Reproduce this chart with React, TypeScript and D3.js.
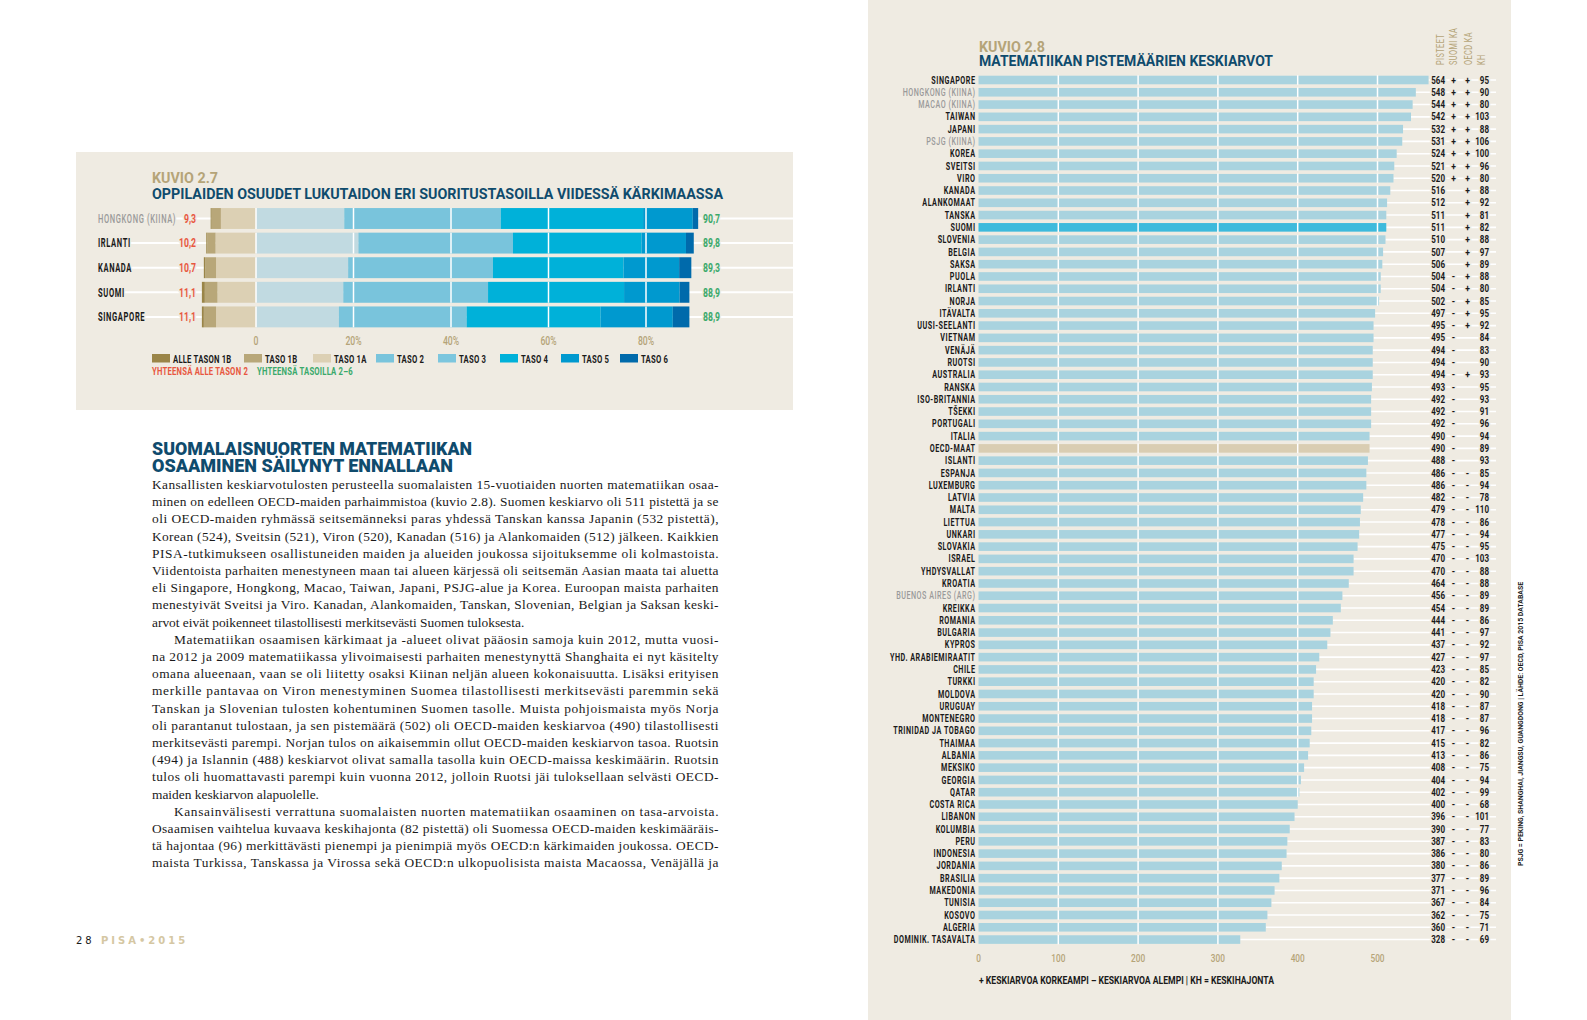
import { useEffect } from "react";
import * as d3 from "d3";

// ---- kuvio 2.7 : lukutaidon suoritustasot ----
const readCountries = ["HONGKONG (KIINA)", "IRLANTI", "KANADA", "SUOMI", "SINGAPORE"];
const below1b = [0.2, 0.2, 0.3, 0.6, 0.4];
const level1b = [1.9, 1.7, 2.2, 2.6, 2.5];
const level1a = [7.2, 8.3, 8.2, 7.9, 8.2];
const level2 = [18.1, 21.0, 18.9, 17.9, 17.0];
const level3 = [32.1, 31.7, 29.7, 29.7, 26.2];
const level4 = [29.2, 26.4, 26.8, 27.9, 27.5];
const level5 = [10.2, 9.1, 11.4, 11.4, 14.8];
const level6 = [1.1, 1.6, 2.5, 2.0, 3.4];
const readTicks = [0, 20, 40, 60, 80];
const levelNames = ["ALLE TASON 1B", "TASO 1B", "TASO 1A", "TASO 2", "TASO 3", "TASO 4", "TASO 5", "TASO 6"];

// ---- kuvio 2.8 : matematiikan keskiarvot ----
const mathCountries = [
  "SINGAPORE", "HONGKONG (KIINA)", "MACAO (KIINA)", "TAIWAN", "JAPANI", "PSJG (KIINA)", "KOREA", "SVEITSI", "VIRO",
  "KANADA", "ALANKOMAAT", "TANSKA", "SUOMI", "SLOVENIA", "BELGIA", "SAKSA", "PUOLA", "IRLANTI", "NORJA", "ITÄVALTA",
  "UUSI-SEELANTI", "VIETNAM", "VENÄJÄ", "RUOTSI", "AUSTRALIA", "RANSKA", "ISO-BRITANNIA", "TŠEKKI", "PORTUGALI",
  "ITALIA", "OECD-MAAT", "ISLANTI", "ESPANJA", "LUXEMBURG", "LATVIA", "MALTA", "LIETTUA", "UNKARI", "SLOVAKIA",
  "ISRAEL", "YHDYSVALLAT", "KROATIA", "BUENOS AIRES (ARG)", "KREIKKA", "ROMANIA", "BULGARIA", "KYPROS",
  "YHD. ARABIEMIRAATIT", "CHILE", "TURKKI", "MOLDOVA", "URUGUAY", "MONTENEGRO", "TRINIDAD JA TOBAGO", "THAIMAA",
  "ALBANIA", "MEKSIKO", "GEORGIA", "QATAR", "COSTA RICA", "LIBANON", "KOLUMBIA", "PERU", "INDONESIA", "JORDANIA",
  "BRASILIA", "MAKEDONIA", "TUNISIA", "KOSOVO", "ALGERIA", "DOMINIK. TASAVALTA",
];
const mathScores = [
  564, 548, 544, 542, 532, 531, 524, 521, 520,
  516, 512, 511, 511, 510, 507, 506, 504, 504, 502, 497,
  495, 495, 494, 494, 494, 493, 492, 492, 492,
  490, 490, 488, 486, 486, 482, 479, 478, 477, 475,
  470, 470, 464, 456, 454, 444, 441, 437,
  427, 423, 420, 420, 418, 418, 417, 415,
  413, 408, 404, 402, 400, 396, 390, 387, 386, 380,
  377, 371, 367, 362, 360, 328,
];
const vsSuomi = [
  "+", "+", "+", "+", "+", "+", "+", "+", "+",
  "", "", "", "", "", "", "", "-", "-", "-", "-",
  "-", "-", "-", "-", "-", "-", "-", "-", "-",
  "-", "-", "-", "-", "-", "-", "-", "-", "-", "-",
  "-", "-", "-", "-", "-", "-", "-", "-",
  "-", "-", "-", "-", "-", "-", "-", "-",
  "-", "-", "-", "-", "-", "-", "-", "-", "-", "-",
  "-", "-", "-", "-", "-", "-",
];
const vsOecd = [
  "+", "+", "+", "+", "+", "+", "+", "+", "+",
  "+", "+", "+", "+", "+", "+", "+", "+", "+", "+", "+",
  "+", "", "", "", "+", "", "", "", "",
  "", "", "", "-", "-", "-", "-", "-", "-", "-",
  "-", "-", "-", "-", "-", "-", "-", "-",
  "-", "-", "-", "-", "-", "-", "-", "-",
  "-", "-", "-", "-", "-", "-", "-", "-", "-", "-",
  "-", "-", "-", "-", "-", "-",
];
const mathSD = [
  95, 90, 80, 103, 88, 106, 100, 96, 80,
  88, 92, 81, 82, 88, 97, 89, 88, 80, 85, 95,
  92, 84, 83, 90, 93, 95, 93, 91, 96,
  94, 89, 93, 85, 94, 78, 110, 86, 94, 95,
  103, 88, 88, 89, 89, 86, 97, 92,
  97, 85, 82, 90, 87, 87, 96, 82,
  86, 75, 94, 99, 68, 101, 77, 83, 80, 86,
  89, 96, 84, 75, 71, 69,
];
const greyRegions = ["HONGKONG (KIINA)", "MACAO (KIINA)", "PSJG (KIINA)", "BUENOS AIRES (ARG)"];
const mathTicks = [0, 100, 200, 300, 400, 500];
const mathHeaders = ["PISTEET", "SUOMI KA", "OECD KA", "KH"];

// ---- leipäteksti ----
const heading = ["SUOMALAISNUORTEN MATEMATIIKAN", "OSAAMINEN SÄILYNYT ENNALLAAN"];
const paragraphs = [
  [
    "Kansallisten keskiarvotulosten perusteella suomalaisten 15-vuotiaiden nuorten matematiikan osaa-",
    "minen on edelleen OECD-maiden parhaimmistoa (kuvio 2.8). Suomen keskiarvo oli 511 pistettä ja se",
    "oli OECD-maiden ryhmässä seitsemänneksi paras yhdessä Tanskan kanssa Japanin (532 pistettä),",
    "Korean (524), Sveitsin (521), Viron (520), Kanadan (516) ja Alankomaiden (512) jälkeen. Kaikkien",
    "PISA-tutkimukseen osallistuneiden maiden ja alueiden joukossa sijoituksemme oli kolmastoista.",
    "Viidentoista parhaiten menestyneen maan tai alueen kärjessä oli seitsemän Aasian maata tai aluetta",
    "eli Singapore, Hongkong, Macao, Taiwan, Japani, PSJG-alue ja Korea. Euroopan maista parhaiten",
    "menestyivät Sveitsi ja Viro. Kanadan, Alankomaiden, Tanskan, Slovenian, Belgian ja Saksan keski-",
    "arvot eivät poikenneet tilastollisesti merkitsevästi Suomen tuloksesta.",
  ],
  [
    "Matematiikan osaamisen kärkimaat ja -alueet olivat pääosin samoja kuin 2012, mutta vuosi-",
    "na 2012 ja 2009 matematiikassa ylivoimaisesti parhaiten menestynyttä Shanghaita ei nyt käsitelty",
    "omana alueenaan, vaan se oli liitetty osaksi Kiinan neljän alueen kokonaisuutta. Lisäksi erityisen",
    "merkille pantavaa on Viron menestyminen Suomea tilastollisesti merkitsevästi paremmin sekä",
    "Tanskan ja Slovenian tulosten kohentuminen Suomen tasolle. Muista pohjoismaista myös Norja",
    "oli parantanut tulostaan, ja sen pistemäärä (502) oli OECD-maiden keskiarvoa (490) tilastollisesti",
    "merkitsevästi parempi. Norjan tulos on aikaisemmin ollut OECD-maiden keskiarvon tasoa. Ruotsin",
    "(494) ja Islannin (488) keskiarvot olivat samalla tasolla kuin OECD-maissa keskimäärin. Ruotsin",
    "tulos oli huomattavasti parempi kuin vuonna 2012, jolloin Ruotsi jäi tuloksellaan selvästi OECD-",
    "maiden keskiarvon alapuolelle.",
  ],
  [
    "Kansainvälisesti verrattuna suomalaisten nuorten matematiikan osaaminen on tasa-arvoista.",
    "Osaamisen vaihtelua kuvaava keskihajonta (82 pistettä) oli Suomessa OECD-maiden keskimääräis-",
    "tä hajontaa (96) merkittävästi pienempi ja pienimpiä myös OECD:n kärkimaiden joukossa. OECD-",
    "maista Turkissa, Tanskassa ja Virossa sekä OECD:n ulkopuolisista maista Macaossa, Venäjällä ja",
  ],
];

const BEIGE = "#efebe2";
const TAN = "#b5a478";
const NAVY = "#0f4b6d";
const INK = "#1a1a1a";
const COND = "Roboto, 'DejaVu Sans', sans-serif";
const HEAD = "Roboto, 'DejaVu Sans', sans-serif";
const SERIF = "'Liberation Serif','DejaVu Serif',serif";

const levelColors = ["#9a8548", "#b8a779", "#dcd0b4", "#c1dae1", "#79c4dc", "#00b1d9", "#0099cf", "#006aab"];
const legendColors = ["#9a8548", "#b8a779", "#dcd0b4", "#79c4dc", "#7cc6de", "#00b1d9", "#0099cf", "#006aab"];

const halo = { paintOrder: "stroke", stroke: BEIGE, strokeWidth: 4, strokeLinejoin: "round" } as any;

// condensed text: no narrow face is installed, so squeeze horizontally
function CText({ x, y, sx = 0.72, children, ...rest }: any) {
  return (
    <text transform={`translate(${x},${y}) scale(${sx},1)`} fontFamily={COND} {...rest}>
      {children}
    </text>
  );
}

function ReadingChart() {
  const keys = ["l1a", "l1b", "alle", "l2", "l3", "l4", "l5", "l6"];
  const table = readCountries.map((c, i) => ({
    country: c,
    alle: -below1b[i],
    l1b: -level1b[i],
    l1a: -level1a[i],
    l2: level2[i],
    l3: level3[i],
    l4: level4[i],
    l5: level5[i],
    l6: level6[i],
  }));
  const series = d3.stack<any>().keys(keys).offset(d3.stackOffsetDiverging)(table);
  const colorOf: Record<string, string> = {
    alle: levelColors[0], l1b: levelColors[1], l1a: levelColors[2], l2: levelColors[3],
    l3: levelColors[4], l4: levelColors[5], l5: levelColors[6], l6: levelColors[7],
  };
  const x = d3.scaleLinear().domain([0, 80]).range([256, 646]);
  const y = d3.scaleBand<string>().domain(readCountries).range([206.2, 329.2]).paddingInner(0.15).paddingOuter(0.075);
  const fmt = (v: number) => v.toFixed(1).replace(".", ",");
  const legendX = [152, 244, 313, 376, 438, 500, 561, 620];

  return (
    <g>
      <rect x={76} y={152} width={717} height={258} fill={BEIGE} />
      <text x={152} y={183} fontFamily={HEAD} fontWeight={700} fontSize={14} fill={TAN} textLength={66} lengthAdjust="spacingAndGlyphs">KUVIO 2.7</text>
      <text x={152} y={198.5} fontFamily={HEAD} fontWeight={700} fontSize={14} fill={NAVY} textLength={571} lengthAdjust="spacingAndGlyphs">
        OPPILAIDEN OSUUDET LUKUTAIDON ERI SUORITUSTASOILLA VIIDESSÄ KÄRKIMAASSA
      </text>
      {readCountries.map((c) => (
        <line key={c} x1={100} x2={793} y1={y(c)! + y.bandwidth() / 2} y2={y(c)! + y.bandwidth() / 2} stroke="#fff" strokeWidth={2} />
      ))}
      {series.map((s) =>
        s.map((d, i) => (
          <rect key={s.key + i} x={x(Math.min(d[0], d[1]))} width={Math.abs(x(d[1]) - x(d[0]))}
            y={y(readCountries[i])} height={y.bandwidth()} fill={colorOf[s.key]} />
        ))
      )}
      {readCountries.map((c, i) => {
        const right = level2[i] + level3[i] + level4[i] + level5[i] + level6[i];
        return readTicks.filter((t) => t < right).map((t) => (
          <line key={c + t} x1={x(t)} x2={x(t)} y1={y(c)} y2={y(c)! + y.bandwidth()} stroke="#fff" strokeWidth={1.5} />
        ));
      })}
      {readCountries.map((c, i) => {
        const cy = y(c)! + y.bandwidth() / 2 + 4.2;
        const low = below1b[i] + level1b[i] + level1a[i];
        const high = level2[i] + level3[i] + level4[i] + level5[i] + level6[i];
        return (
          <g key={c} fontWeight={700} fontSize={12}>
            <CText x={98} y={cy} sx={0.63} fill={greyRegions.includes(c) ? "#9a9a9a" : INK} fontWeight={greyRegions.includes(c) ? 500 : 700} letterSpacing={1} style={halo}>{c}</CText>
            <CText x={196} y={cy} sx={0.72} textAnchor="end" fill="#e8573f" style={halo}>{fmt(low)}</CText>
            <CText x={703} y={cy} sx={0.72} fill="#3aa96b" style={halo}>{fmt(high)}</CText>
          </g>
        );
      })}
      {readTicks.map((t) => (
        <CText key={t} x={x(t)} y={344.5} sx={0.72} textAnchor="middle" fontSize={12} fontWeight={500} fill={TAN}>
          {t === 0 ? "0" : `${t}%`}
        </CText>
      ))}
      {levelNames.map((n, i) => (
        <g key={n}>
          <rect x={legendX[i]} y={354} width={18} height={8.5} fill={legendColors[i]} />
          <CText x={legendX[i] + 21} y={362.5} sx={0.7} fontWeight={700} fontSize={11} fill={INK} letterSpacing={0.3}>{n}</CText>
        </g>
      ))}
      <CText x={152} y={374.5} sx={0.7} fontWeight={700} fontSize={11} fill="#e8573f" letterSpacing={0.3}>YHTEENSÄ ALLE TASON 2</CText>
      <CText x={257} y={374.5} sx={0.7} fontWeight={700} fontSize={11} fill="#3aa96b" letterSpacing={0.3}>YHTEENSÄ TASOILLA 2–6</CText>
    </g>
  );
}

function MathChart() {
  const x = d3.scaleLinear().domain([0, 500]).range([978.5, 1377.5]);
  const y = d3.scaleBand<string>().domain(mathCountries).range([73.86, 945.7]).paddingInner(0.3).paddingOuter(0.15);
  const bw = y.bandwidth();
  const headerX = [1443.5, 1457, 1471.5, 1484.5];
  return (
    <g>
      <rect x={868} y={0} width={643} height={1020} fill={BEIGE} />
      <text x={979} y={51.5} fontFamily={HEAD} fontWeight={700} fontSize={14} fill={TAN} textLength={66} lengthAdjust="spacingAndGlyphs">KUVIO 2.8</text>
      <text x={979} y={66} fontFamily={HEAD} fontWeight={700} fontSize={14} fill={NAVY} textLength={294} lengthAdjust="spacingAndGlyphs">
        MATEMATIIKAN PISTEMÄÄRIEN KESKIARVOT
      </text>
      {mathHeaders.map((h, i) => (
        <text key={h} transform={`translate(${headerX[i]},65) rotate(-90) scale(0.7,1)`} fontFamily={COND} fontSize={10.5} fill={TAN} letterSpacing={0.6}>{h}</text>
      ))}
      {mathCountries.map((c, i) => (
        <line key={c} x1={x(mathScores[i])} x2={1496} y1={y(c)! + bw / 2} y2={y(c)! + bw / 2} stroke="#fff" strokeWidth={1.6} />
      ))}
      {mathCountries.map((c, i) => (
        <rect key={c} x={x(0)} y={y(c)} width={x(mathScores[i]) - x(0)} height={bw}
          fill={c === "SUOMI" ? "#3dbadc" : c === "OECD-MAAT" ? "#d9cdb2" : "#a9d3df"} />
      ))}
      {mathCountries.map((c, i) =>
        mathTicks.filter((t) => t > 0 && t < mathScores[i]).map((t) => (
          <line key={c + t} x1={x(t)} x2={x(t)} y1={y(c)! - 0.5} y2={y(c)! + bw + 0.5} stroke="#fff" strokeWidth={1.5} />
        ))
      )}
      {mathCountries.map((c, i) => {
        const cy = y(c)! + bw / 2 + 3.6;
        const grey = greyRegions.includes(c);
        return (
          <g key={c} fontSize={10} fontWeight={700}>
            <CText x={975.5} y={cy} sx={0.72} textAnchor="end" letterSpacing={0.7} fontWeight={grey ? 500 : 700} fill={grey ? "#9a9a9a" : INK}>{c}</CText>
            <CText x={1445} y={cy} sx={0.8} textAnchor="end" fill={INK} style={halo}>{mathScores[i]}</CText>
            {vsSuomi[i] && <CText x={1453.5} y={cy} sx={0.85} textAnchor="middle" fill={INK} style={halo}>{vsSuomi[i]}</CText>}
            {vsOecd[i] && <CText x={1467.5} y={cy} sx={0.85} textAnchor="middle" fill={INK} style={halo}>{vsOecd[i]}</CText>}
            <CText x={1489} y={cy} sx={0.8} textAnchor="end" fill={INK} style={halo}>{mathSD[i]}</CText>
          </g>
        );
      })}
      {mathTicks.map((t) => (
        <CText key={t} x={x(t)} y={961.5} sx={0.72} textAnchor="middle" fontSize={11.5} fontWeight={500} fill={TAN}>{t}</CText>
      ))}
      <text x={979} y={983.5} fontFamily={COND} fontWeight={700} fontSize={10} fill={INK} textLength={295} lengthAdjust="spacingAndGlyphs">
        + KESKIARVOA KORKEAMPI   – KESKIARVOA ALEMPI   |   KH = KESKIHAJONTA
      </text>
      <text transform="translate(1523,866) rotate(-90)" fontFamily={COND} fontWeight={700} fontSize={8} fill={INK} textLength={284} lengthAdjust="spacingAndGlyphs">
        PSJG = PEKING, SHANGHAI, JIANGSU, GUANGDONG  |  LÄHDE: OECD, PISA 2015 DATABASE
      </text>
    </g>
  );
}

function BodyText() {
  const left = 152;
  const right = 718.5;
  const indent = 22;
  const lines: { text: string; x: number; justify: boolean }[] = [];
  paragraphs.forEach((p, pi) =>
    p.forEach((t, li) => {
      const isLast = li === p.length - 1 && pi < paragraphs.length - 1;
      lines.push({ text: t, x: left + (li === 0 && pi > 0 ? indent : 0), justify: !isLast });
    })
  );
  return (
    <g>
      {heading.map((h, i) => (
        <text key={h} x={152} y={454.5 + i * 17} fontFamily={HEAD} fontWeight={900} fontSize={17.5} fill={NAVY}
          textLength={i === 0 ? 320 : 301} lengthAdjust="spacingAndGlyphs">{h}</text>
      ))}
      {lines.map((l, i) => (
        <text key={i} x={l.x} y={489 + i * 17.2} fontFamily={SERIF} fontSize={13.4} fill={INK}
          {...(l.justify ? { textLength: right - l.x, lengthAdjust: "spacing" } : {})}>{l.text}</text>
      ))}
      <text x={76} y={944} fontFamily="'DejaVu Sans',sans-serif" fontSize={10} letterSpacing={3} fill={INK}>
        28 <tspan fill="#d5c7a3" fontWeight={700}>PISA•2015</tspan>
      </text>
    </g>
  );
}

export default function App() {
  useEffect(() => {
    document.body.style.margin = "0";
  }, []);
  return (
    <svg width={1587} height={1020} style={{ position: "absolute", left: 0, top: 0, background: "#fff" }}>
      <rect width={1587} height={1020} fill="#fff" />
      <ReadingChart />
      <BodyText />
      <MathChart />
    </svg>
  );
}
